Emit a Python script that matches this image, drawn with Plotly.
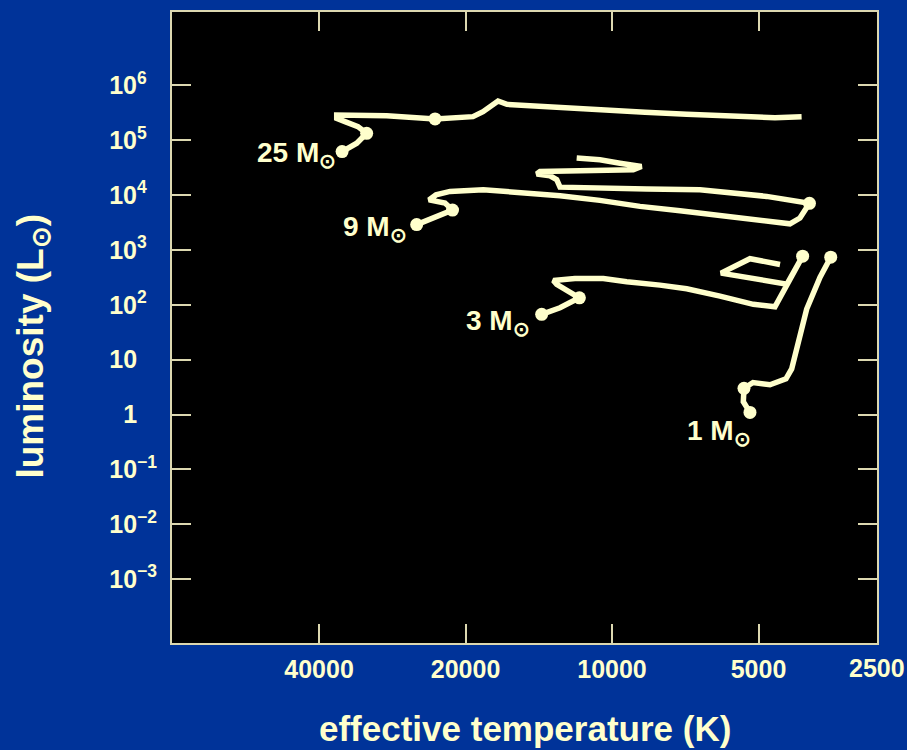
import math
import plotly.graph_objects as go

# ---------------- data (effective temperature K, luminosity Lsun) ----------------
T25 = [35870, 34870, 33460, 31930, 33270, 35380, 36790, 36790, 35380, 29040, 23100,
       19310, 18410, 17150, 16440, 14880, 12490, 10500, 8554, 7024, 5777, 4626, 4078]
L25 = [62400, 71600, 88300, 134200, 177600, 218800, 251200, 289800, 289800, 281400, 245100,
       270000, 332700, 520600, 451500, 427600, 381900, 346900, 323100, 297200, 281400, 258800, 270000]
DOT25 = [0, 3, 10]

T9 = [25200, 23100, 21270, 22040, 23780, 23000, 21520, 18390, 15460, 12790, 10590, 8760,
      7250, 5999, 4965, 4309, 4110, 3929, 4811, 5813, 6596, 8485, 10250, 12790, 12990,
      13410, 14280, 14060, 9045, 8698, 9630, 10590, 11820]
L9 = [2904, 3945, 5352, 7178, 8200, 10110, 11700, 12570, 11370, 9777, 8031, 6249,
      5219, 4287, 3478, 3004, 3830, 7085, 9495, 11370, 12570, 12890, 13440, 14010, 19100,
      22580, 24340, 27030, 29020, 33320, 38250, 44100, 47550]
DOT9 = [0, 2, 17]

T3 = [13950, 12790, 11670, 12200, 12990, 13200, 11920, 10420, 9328, 7969, 7024, 5999,
      5125, 4626, 4058, 4370, 5971, 5206, 4516]
L3 = [67.3, 88.7, 134.7, 166.1, 236.0, 279.0, 303.3, 303.3, 263.1, 229.2, 196.3, 144.6,
      102.2, 92.4, 771.4, 238.9, 378.6, 694.5, 544.8]
DOT3 = [0, 2, 14]

T1 = [5206, 5373, 5356, 5132, 4736, 4391, 4274, 3981, 3737, 3553]
L1 = [1.096, 1.714, 3.015, 3.844, 3.491, 4.487, 6.818, 83.95, 320.3, 739.6]
DOT1 = [0, 2, 9]

MASS_LABELS = ["25 M", "9 M", "3 M", "1 M"]

X_TICKS = [40000, 20000, 10000, 5000]
X_TICKTEXT = ["40000", "20000", "10000", "5000"]
X_EDGE_LABEL = "2500"
Y_TICKS = [1e-3, 1e-2, 1e-1, 1, 10, 1e2, 1e3, 1e4, 1e5, 1e6]
Y_EXP = ["−3", "−2", "−1", None, None, "2", "3", "4", "5", "6"]
Y_PLAIN = {1: "1", 10: "10"}

X_RANGE = [4.9042, 3.4555]   # log10 K, reversed
Y_RANGE = [-4.164, 7.339]    # log10 Lsun

# ---------------- style ----------------
BG = "#003399"
CREAM = "#ffffcc"
FRAME = "#dcd8b0"
FONT = "Liberation Sans, Arial, Helvetica, sans-serif"

fig = go.Figure()

tracks = [(T25, L25, DOT25), (T9, L9, DOT9), (T3, L3, DOT3), (T1, L1, DOT1)]
for T, L, D in tracks:
    fig.add_trace(go.Scatter(x=T, y=L, mode="lines",
                             line=dict(color=CREAM, width=5.5),
                             hoverinfo="skip", showlegend=False))
    fig.add_trace(go.Scatter(x=[T[i] for i in D], y=[L[i] for i in D], mode="markers",
                             marker=dict(color=CREAM, size=13, line=dict(width=0)),
                             hoverinfo="skip", showlegend=False))


def ghost(s):
    return "<span style='color:rgba(0,0,0,0)'>" + s + "</span>"


# y tick labels: mantissas aligned, exponents sticking out to the right
y_text = []
for v, e in zip(Y_TICKS, Y_EXP):
    if e is None:
        y_text.append(Y_PLAIN[int(v)] + "<sup>" + ghost("−0") + "</sup>")
    elif e.startswith("−"):
        y_text.append("10<sup>" + e + "</sup>")
    else:
        y_text.append("10<sup>" + e + ghost("−") + "</sup>")

axis_common = dict(showline=True, linecolor=FRAME, linewidth=2, mirror="ticks",
                   ticks="inside", ticklen=19, tickwidth=2, tickcolor=FRAME,
                   showgrid=False, zeroline=False,
                   tickfont=dict(family=FONT, size=25, color=CREAM, weight="bold"))

fig.update_xaxes(type="log", range=X_RANGE, tickvals=X_TICKS, ticktext=X_TICKTEXT,
                 ticklabelstandoff=3, **axis_common)
fig.update_yaxes(type="log", range=Y_RANGE, tickvals=Y_TICKS, ticktext=y_text,
                 ticklabelstandoff=8, **axis_common)

ann = []
# mass labels next to starting (ZAMS) points
label_pos = [
    (T25[0], L25[0], -4, -3),
    (T9[0], L9[0], -8, -4),
    (T3[0], L3[0], -10, -8),
    (T1[0], L1[0], 3, -20),
]
for (t, l, xs, ys), txt in zip(label_pos, MASS_LABELS):
    ann.append(dict(x=math.log10(t), y=math.log10(l), xref="x", yref="y",
                    text=txt + "<sub>⊙</sub>", showarrow=False,
                    xanchor="right", yanchor="middle", xshift=xs, yshift=ys,
                    font=dict(family=FONT, size=28, color=CREAM, weight="bold")))
# right-edge temperature label
ann.append(dict(x=1.0, y=0, xref="paper", yref="paper", text=X_EDGE_LABEL,
                showarrow=False, xanchor="center", yanchor="top", yshift=-9,
                font=dict(family=FONT, size=25, color=CREAM, weight="bold")))
# axis titles
ann.append(dict(x=0.5, y=-0.135, xref="paper", yref="paper",
                text="effective temperature (K)", showarrow=False,
                xanchor="center", yanchor="middle",
                font=dict(family=FONT, size=35, color=CREAM, weight="bold")))
ann.append(dict(x=-0.197, y=0.47, xref="paper", yref="paper",
                text="luminosity (L<sub>⊙</sub>)", showarrow=False, textangle=-90,
                xanchor="center", yanchor="middle",
                font=dict(family=FONT, size=37, color=CREAM, weight="bold")))

fig.update_layout(width=907, height=750,
                  margin=dict(l=172, r=30, t=10, b=107),
                  paper_bgcolor=BG, plot_bgcolor="black",
                  annotations=ann, showlegend=False)

fig.write_html("out.html",
               config={"displayModeBar": False, "staticPlot": True},
               post_script="document.body.style.margin='0';"
                           "document.body.style.overflow='hidden';"
                           "document.body.style.background='" + BG + "';")
